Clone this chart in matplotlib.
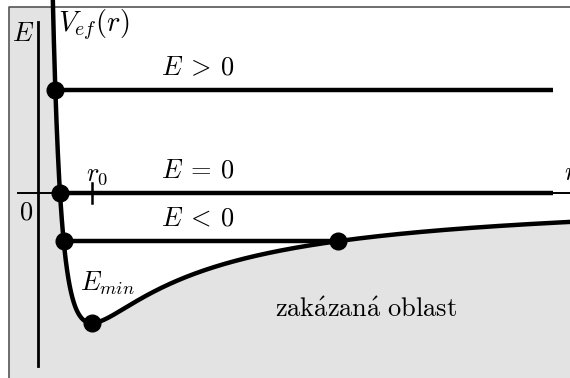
import numpy as np
import matplotlib.pyplot as plt
from matplotlib.patches import Polygon

plt.rcParams['mathtext.fontset'] = 'cm'
plt.rcParams['font.family'] = 'serif'
plt.rcParams['font.serif'] = ['cmr10', 'DejaVu Serif']

# effective potential V(r) = 1/r^2 - 2/r, r in units of r0, V in units of |E_min|
r_min = 1.0
E_min = -1.0
E_levels = [0.79, 0.0, -0.37]
level_labels = [r'$E\:>\:0$', r'$E\:=\:0$', r'$E\:<\:0$']
r_end = 8.2

def V(r):
    return 1.0 / r**2 - 2.0 / r

def r_inner(E):
    # smaller root of V(r) = E
    if E == 0:
        return 0.5
    return (-1 + np.sqrt(1 + E)) / E

def r_outer(E):
    return (-1 - np.sqrt(1 + E)) / E

x0, x1 = -0.4375, 8.47
y0, y1 = -1.423, 1.485
fs = 19

fig = plt.figure(figsize=(5.7, 3.78), dpi=100)
ax = fig.add_axes([0, 0, 1, 1])
ax.set_xlim(x0, x1)
ax.set_ylim(y0, y1)
ax.axis('off')

# frame
fl = x0 + 9.5 / 64
ft = y1 - 7 / 130
ax.plot([fl, fl, x1 + 1], [y0 - 1, ft, ft], color='#555555', lw=1.2, zorder=1)

# forbidden region
r_top = r_inner(ft)
rr = np.linspace(r_top, x1 + 0.2, 600)
vv = V(rr)
poly = np.column_stack([np.r_[fl, fl, rr, x1 + 0.2], np.r_[y0 - 1, ft, vv, y0 - 1]])
ax.add_patch(Polygon(poly, closed=True, facecolor='#e3e3e3', edgecolor='none', zorder=0))

# axes
ax_x = 10 / 64
ax.plot([ax_x, ax_x], [1.315, -1.33], color='black', lw=2.0, zorder=2)
ax.plot([-0.156, x1 + 0.2], [0, 0], color='black', lw=1.4, zorder=2)
ax.plot([r_min, r_min], [-0.08, 0.08], color='black', lw=1.8, zorder=2)

# curve
rc = np.linspace(r_inner(y1 + 0.1), x1 + 0.2, 800)
ax.plot(rc, V(rc), color='black', lw=3.2, zorder=4, solid_capstyle='butt')

# energy levels
for E, lab in zip(E_levels, level_labels):
    ra = r_inner(E)
    rb = r_end if E >= 0 else r_outer(E)
    ax.plot([ra, rb], [E, E], color='black', lw=3.2, zorder=3, solid_capstyle='butt')
    ax.plot([ra], [E], 'o', color='black', ms=12, zorder=5)
    if E < 0:
        ax.plot([rb], [E], 'o', color='black', ms=12, zorder=5)
    ax.text(2.66, E + 0.08, lab, fontsize=fs, ha='center', va='bottom')

ax.plot([r_min], [E_min], 'o', color='black', ms=12, zorder=5)

# labels
ax.text(-0.078, 1.13, r'$E$', fontsize=fs, ha='center', va='bottom')
ax.text(0.47, 1.16, r'$V_{ef}(r)$', fontsize=20.5, ha='left', va='bottom')
ax.text(1.08, 0.05, r'$r_0$', fontsize=fs, ha='center', va='bottom')
ax.text(-0.03, -0.06, r'$0$', fontsize=fs, ha='center', va='top')
ax.text(8.38, 0.06, r'$r$', fontsize=fs, ha='left', va='bottom')
ax.text(0.81, -0.80, r'$E_{min}$', fontsize=fs, ha='left', va='bottom')
ax.text(5.28, -0.954, r'$\mathrm{zak\acute{a}zan\acute{a}\ oblast}$', fontsize=fs,
        ha='center', va='baseline')

fig.savefig('out.png', dpi=100)
